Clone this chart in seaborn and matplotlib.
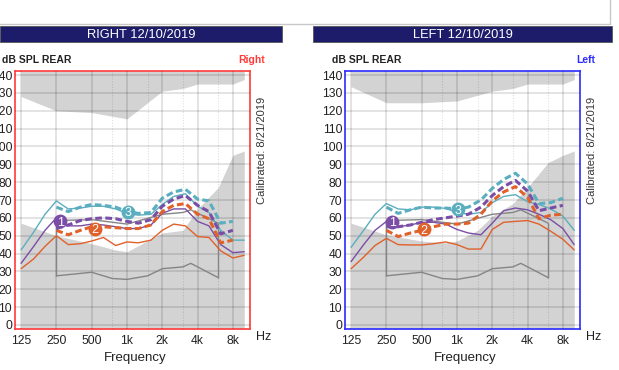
import matplotlib
matplotlib.use("Agg")
import matplotlib.pyplot as plt
from matplotlib.patches import Rectangle
from matplotlib.lines import Line2D
from matplotlib.ticker import NullFormatter
import seaborn as sns

sns.set_style("white")
plt.rcParams["font.family"] = ["Liberation Sans", "DejaVu Sans"]

# ----------------------------
# data (Hz, dB SPL)
# ----------------------------
freq = [125, 160, 200, 250, 315, 400, 500, 630, 800, 1000, 1250, 1600,
        2000, 2500, 3150, 4000, 5000, 6300, 8000, 10000]
freq_dash = [250, 315, 400, 500, 630, 800, 1000, 1250, 1600,
             2000, 2500, 3150, 4000, 5000, 6300, 8000]

# right ear
r_teal = [42, 52, 62, 69.5, 65, 65.5, 66.5, 66.5, 65, 62.5, 61.5, 62,
          67.5, 72, 73.5, 66.5, 63, 53, 47.5, 47.5]
r_purple = [34.5, 44, 53, 60, 55.5, 55.5, 56.5, 56, 55, 54, 54, 56,
            62.5, 65, 65, 58, 55.5, 45, 40.5, 41]
r_orange = [31.5, 37, 44, 50, 45, 45.5, 47, 49, 44.5, 46.5, 46, 47.5,
            53, 56.5, 55.5, 49.5, 49, 41.5, 37.5, 39]
r_teal_d = [66, 63.5, 66, 67.5, 67, 66, 63.5, 62.5, 63, 71, 74.5, 76, 70.5, 69.5, 57, 58]
r_purple_d = [54, 56, 58.5, 59.5, 60, 59.5, 58, 57, 59, 66.5, 70.5, 72.5, 67, 63.5, 51, 53]
r_orange_d = [53, 50.5, 53, 55, 55, 54.5, 54, 54, 56, 63.5, 67, 68, 62, 59.5, 46, 47.5]
r_mark_f = [270, 530, 1030]
r_mark_db = [58, 54, 63.5]

# left ear
l_teal = [43.5, 53, 62, 68, 65, 64.5, 66, 66, 65.3, 63, 62, 63,
          68.5, 72, 73, 69, 67.5, 65, 61, 53]
l_purple = [35.5, 45, 53, 58, 55, 56, 57.5, 57.5, 56.5, 53.5, 51.5, 50.5,
            57, 64, 65.5, 64.5, 62, 59, 54, 45]
l_orange = [31.5, 38, 44.5, 48.5, 45, 44.8, 44.8, 45.5, 46.5, 45, 42.5, 42.5,
            53.5, 57.5, 58, 58.5, 56.5, 52.5, 48, 42]
l_teal_d = [66, 62.5, 64.5, 66, 65.5, 65.5, 65, 66, 70, 76.5, 81.5, 85, 79, 68, 68.5, 71]
l_purple_d = [55, 55, 56, 57.5, 59, 60, 61, 62, 66, 72.5, 77.5, 81, 75, 64, 65.5, 67]
l_orange_d = [53, 49.5, 51.5, 53, 55, 56.5, 56.5, 57, 62, 69.5, 74.5, 77.5, 71.5, 59.5, 61.5, 62]
l_mark_f = [280, 520, 1030]
l_mark_db = [57.8, 53.6, 64.8]

# gray shaded regions
top_f = [125, 250, 500, 1000, 2000, 3000, 4000, 8000, 10000]
r_top_db = [128, 120, 119, 115.5, 131, 132.5, 135, 135, 137.5]
l_top_db = [133.5, 124.5, 124.5, 125.5, 131, 132.5, 135, 135, 137.5]
r_bot_f = [125, 250, 500, 800, 1000, 2000, 3000, 4000, 6000, 8000, 10000]
r_bot_db = [57, 50, 45.5, 42, 41, 51.5, 53, 65, 77, 95, 97.5]
l_bot_f = [125, 250, 500, 800, 1000, 1500, 2000, 3000, 4000, 6000, 8000, 10000]
l_bot_db = [57, 50.5, 47, 46, 47, 53, 61, 68, 77, 91, 95, 97.5]

# gray outline box
box_hi_f = [250, 500, 1000, 2000, 3000, 3500, 6000]
box_hi = [58.5, 59, 56.5, 62, 63, 64.5, 57]
box_lo_f = [250, 500, 750, 1000, 1500, 2000, 3000, 3500, 6000]
box_lo = [27.5, 29.5, 26, 25.5, 27.5, 31.5, 32.5, 34.5, 26.5]

xticks = [125, 250, 500, 1000, 2000, 4000, 8000]
xtick_labels = ["125", "250", "500", "1k", "2k", "4k", "8k"]
xminor = [750, 1500, 3000, 6000]
yticks = list(range(0, 150, 10))

TEAL = "#5aaebf"
PURPLE = "#7a4ea6"
ORANGE = "#e0612a"
GRAY_LINE = "#858585"
FILL = "#d3d3d3"
NAVY = "#1c1c6b"

W, H = 619, 370
fig = plt.figure(figsize=(W / 100, H / 100), dpi=100)


def fx(px):
    return px / W


def fy(py):
    return 1 - py / H


def draw_panel(left_px, frame_color, side, solids, dashes, marks, top_db, bot_f, bot_db):
    ax = fig.add_axes([fx(left_px), fy(329), 235 / W, (329 - 71) / H])
    ax.set_xscale("log", base=2)
    ax.set_xlim(110.9, 11200)
    ylo, yhi = -2.3, 142.3
    ax.set_ylim(ylo, yhi)

    ax.fill_between(top_f, top_db, yhi, color=FILL, lw=0, zorder=1)
    ax.fill_between(bot_f, ylo, bot_db, color=FILL, lw=0, zorder=1)

    ax.set_axisbelow(False)
    ax.set_xticks(xticks)
    ax.set_xticklabels(xtick_labels)
    ax.set_xticks(xminor, minor=True)
    ax.xaxis.set_minor_formatter(NullFormatter())
    ax.set_yticks(yticks)
    ax.tick_params(axis="both", which="both", length=0, labelsize=8.7, colors="#222222")
    ax.tick_params(axis="x", pad=4)
    ax.tick_params(axis="y", pad=2)
    ax.grid(True, which="major", color="black", alpha=0.12, lw=1.3, ls="-")
    ax.grid(True, which="minor", axis="x", color="black", alpha=0.13, lw=0.8,
            ls=(0, (1, 1.5)))

    # outline box
    sns.lineplot(x=box_hi_f, y=box_hi, ax=ax, color=GRAY_LINE, lw=1, zorder=3)
    sns.lineplot(x=box_lo_f, y=box_lo, ax=ax, color=GRAY_LINE, lw=1, zorder=3)
    ax.vlines([box_hi_f[0], box_hi_f[-1]], [box_lo[0], box_lo[-1]],
              [box_hi[0], box_hi[-1]], color=GRAY_LINE, lw=1, zorder=3)

    colors = [ORANGE, PURPLE, TEAL]
    for vals, c in zip(solids, colors):
        sns.lineplot(x=freq, y=vals, ax=ax, color=c, lw=1, zorder=4)
    for vals, c in zip(dashes, colors):
        sns.lineplot(x=freq_dash, y=vals, ax=ax, color=c, lw=2.2,
                     linestyle=(0, (2.2, 1.1)), zorder=5)

    mark_colors = [PURPLE, ORANGE, TEAL]
    for i, (f, db) in enumerate(zip(*marks)):
        ax.scatter([f], [db], s=100, color=mark_colors[i], linewidth=0, zorder=6)
        ax.text(f, db, str(i + 1), color="white", fontsize=9, ha="center",
                va="center_baseline", zorder=7)

    for sp in ax.spines.values():
        sp.set_visible(True)
        sp.set_color(frame_color)
        sp.set_linewidth(1.2)

    # texts around the panel
    fig.text(fx(left_px - 13), fy(60), "dB SPL REAR", fontsize=7.5, fontweight="bold",
             ha="left", va="center", color="#222222")
    fig.text(fx(left_px + 250), fy(60), side, fontsize=7.5, fontweight="bold",
             ha="right", va="center", color=frame_color)
    fig.text(fx(left_px + 247), fy(150), "Calibrated: 8/21/2019", fontsize=8,
             rotation=90, ha="center", va="center", color="#333333")
    fig.text(fx(left_px + 249), fy(337), "Hz", fontsize=9, ha="center", va="center",
             color="#222222")
    fig.text(fx(left_px + 120), fy(358), "Frequency", fontsize=9.5, ha="center",
             va="center", color="#222222")
    return ax


draw_panel(15, "#ff3b3b", "Right",
           [r_orange, r_purple, r_teal], [r_orange_d, r_purple_d, r_teal_d],
           (r_mark_f, r_mark_db), r_top_db, r_bot_f, r_bot_db)
draw_panel(345, "#2b2bff", "Left",
           [l_orange, l_purple, l_teal], [l_orange_d, l_purple_d, l_teal_d],
           (l_mark_f, l_mark_db), l_top_db, l_bot_f, l_bot_db)

# header bars
for x0, x1, label in [(0, 282, "RIGHT 12/10/2019"), (313, 612, "LEFT 12/10/2019")]:
    fig.add_artist(Rectangle((fx(x0), fy(42)), (x1 - x0) / W, 16 / H,
                             transform=fig.transFigure, facecolor=NAVY,
                             edgecolor="#555555", lw=0.6))
    fig.text(fx((x0 + x1) / 2), fy(34.5), label, color="white", fontsize=9.3,
             ha="center", va="center")

# thin frame line at the top
fig.add_artist(Line2D([0, fx(610)], [fy(24), fy(24)], transform=fig.transFigure,
                      color="#c8c8c8", lw=1))
fig.add_artist(Line2D([fx(610), fx(610)], [fy(24), 1], transform=fig.transFigure,
                      color="#c8c8c8", lw=1))

fig.savefig("out.png", dpi=100)
